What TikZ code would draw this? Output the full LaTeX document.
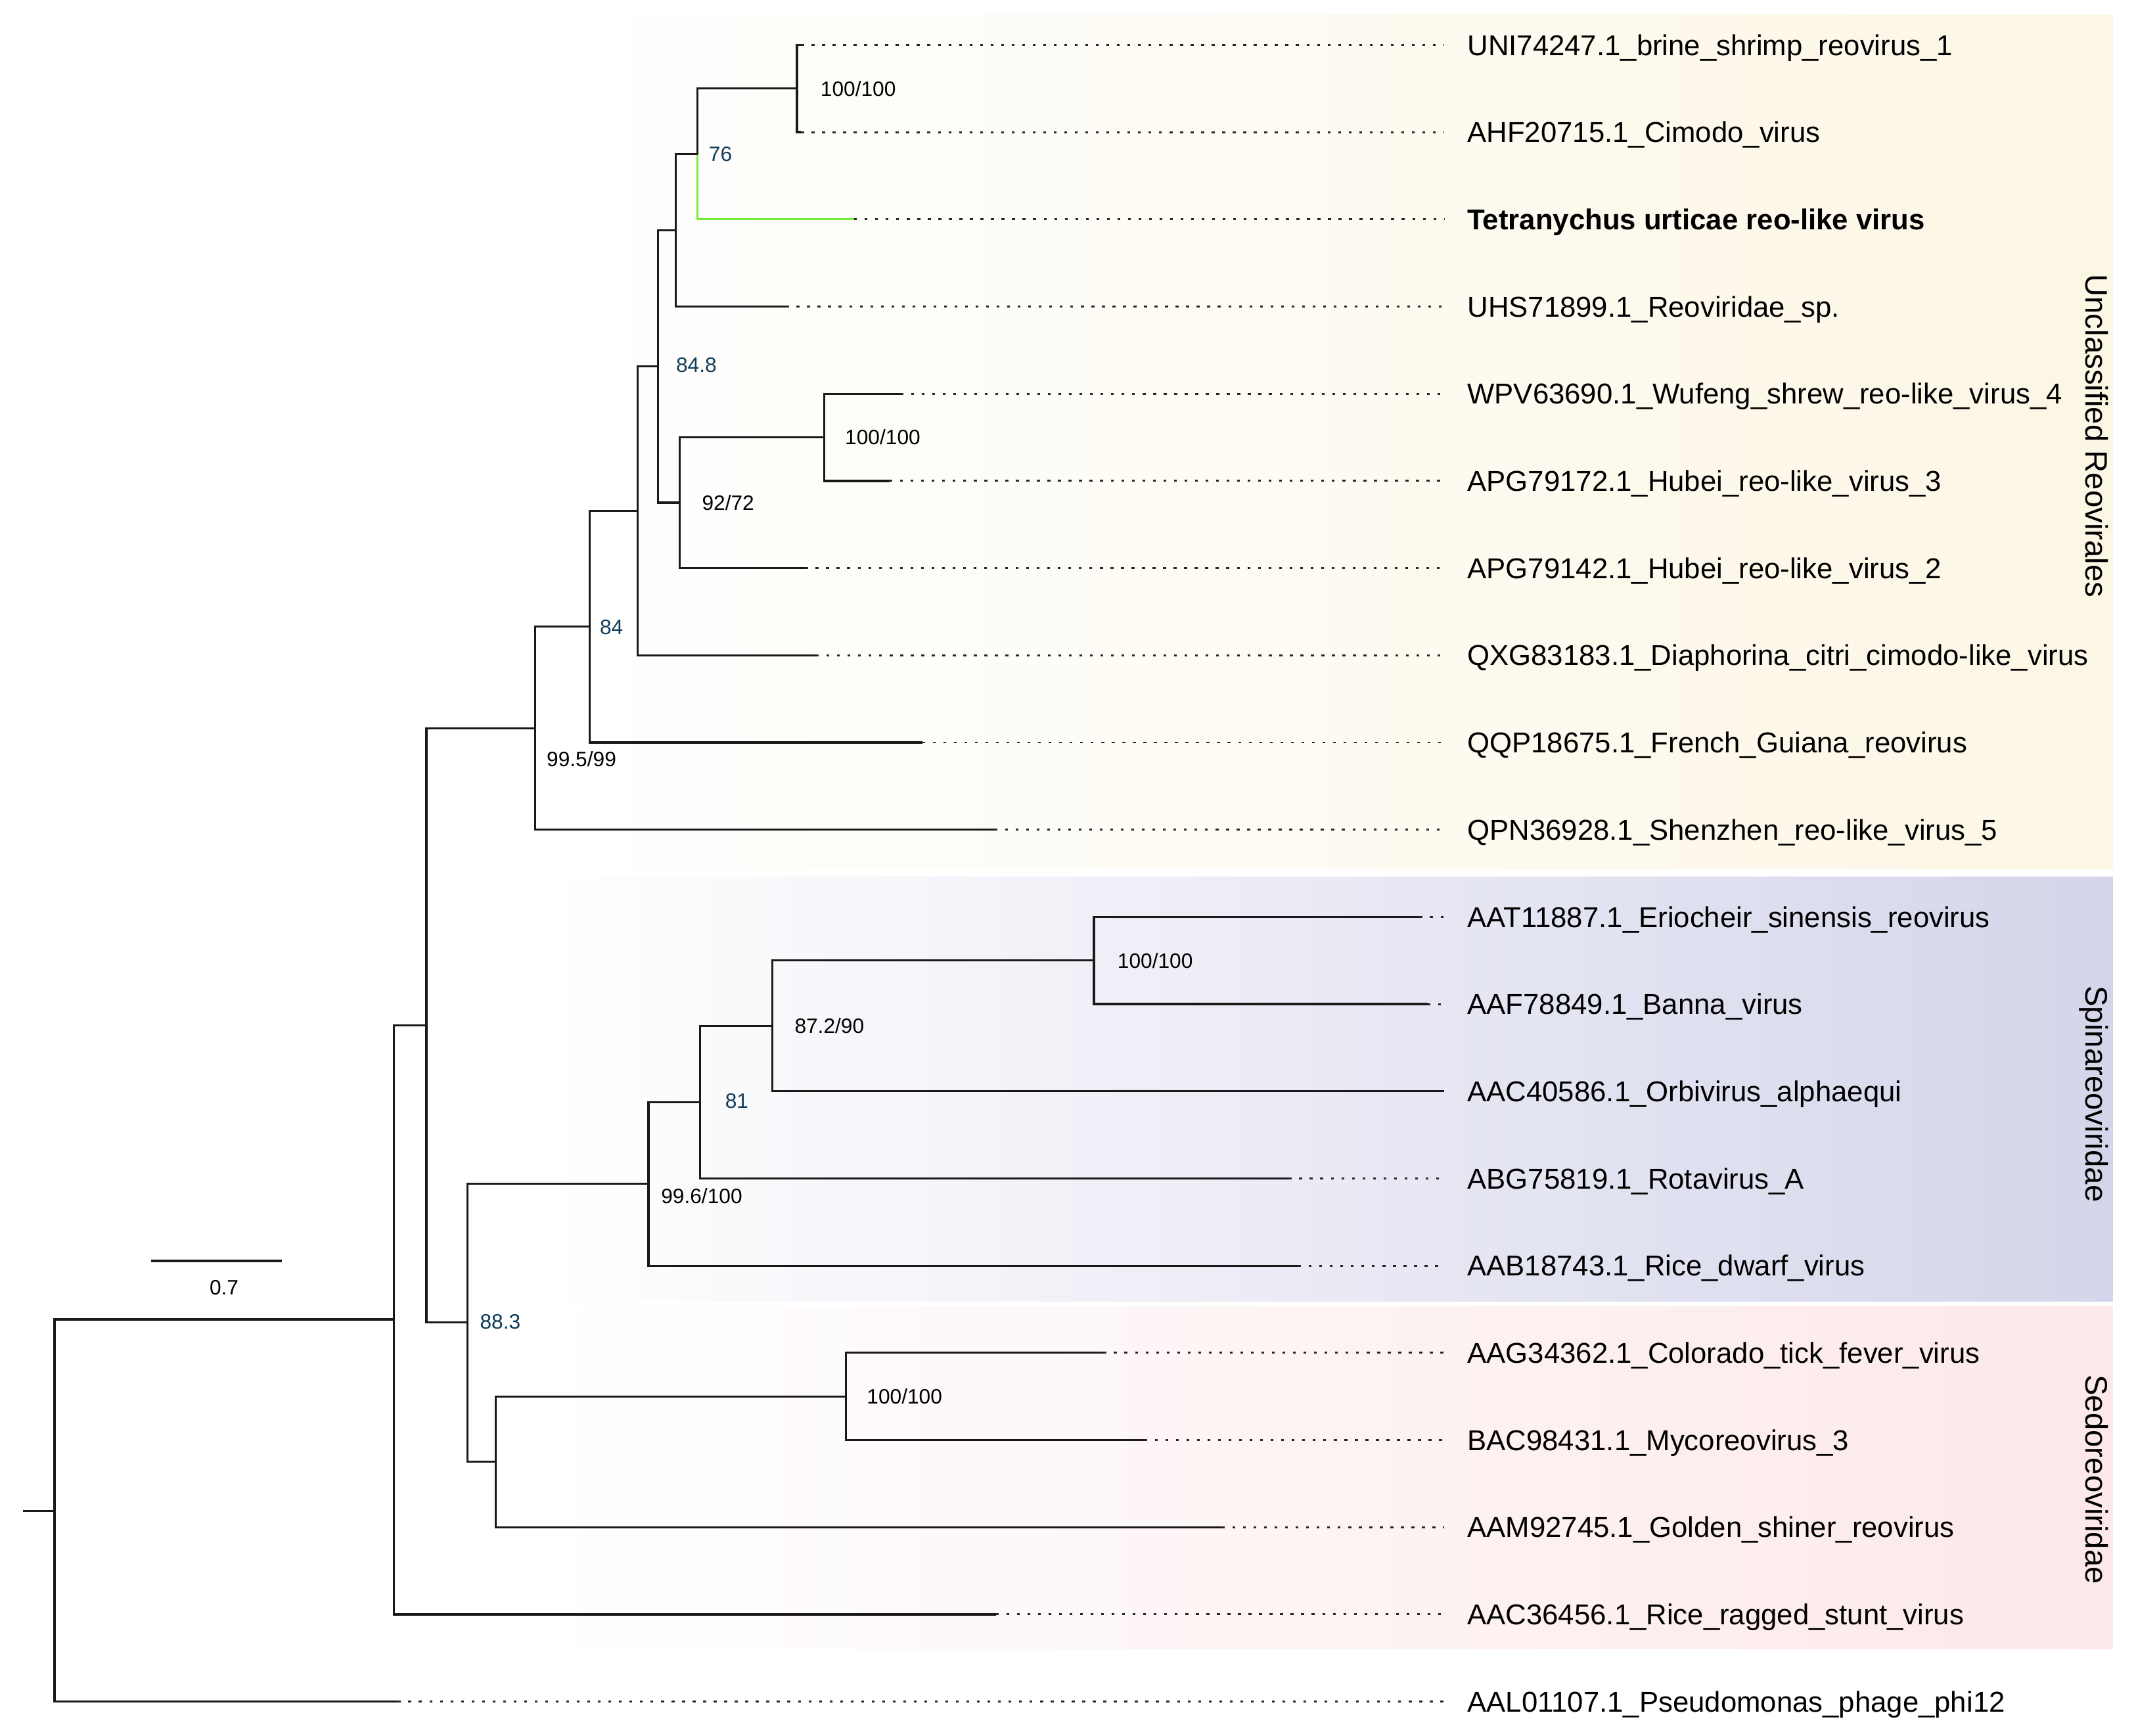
\documentclass[tikz,border=0pt]{standalone}
\usepackage{xcolor}
\usepackage{fontspec}
\setmainfont{Liberation Sans}
\usepackage{tikz}
\usetikzlibrary{positioning}

\definecolor{unclbg}{RGB}{252,246,228}
\definecolor{spinbg}{RGB}{212,213,234}
\definecolor{sedobg}{RGB}{252,232,232}
\definecolor{supblue}{RGB}{15,60,90}
\definecolor{tuvgreen}{RGB}{115,235,55}

\begin{document}
\begin{tikzpicture}[
    x=0.02cm, y=-0.02cm,
    branch/.style={line width=0.9pt, black!90},
    tail/.style={line width=0.8pt, dash pattern=on 1.2pt off 3.2pt, black!85},
    leaf/.style={anchor=west, inner xsep=9.6pt, inner ysep=0pt, text height=8.6pt,
                 text depth=0pt, font=\fontsize{12}{14}\selectfont},
    support/.style={anchor=west, inner sep=0pt, text height=6.2pt, text depth=0pt,
                    font=\fontsize{8.7}{10}\selectfont},
    keysupport/.style={support, text=supblue},
    clade/.style={rotate=-90, inner sep=0pt, text height=9.4pt, text depth=2.7pt,
                  font=\fontsize{13}{15}\selectfont}
  ]
    \useasboundingbox (0,0) rectangle (1568,1274);
    \fill[white] (0,0) rectangle (1568,1274);
    \shade[left color=white, right color=unclbg] (400,11) rectangle (1551,638);
    \shade[left color=white, right color=spinbg] (400,643.5) rectangle (1551,955);
    \shade[left color=white, right color=sedobg] (400,959) rectangle (1551,1210.5);

    \node[leaf] (uni)   at (1060,33)   {UNI74247.1\_brine\_shrimp\_reovirus\_1};
    \node[leaf] (ahf)   at (1060,97)   {AHF20715.1\_Cimodo\_virus};
    \node[leaf] (tuv)   at (1060,161)  {\bfseries Tetranychus urticae reo-like virus};
    \node[leaf] (uhs)   at (1060,225)  {UHS71899.1\_Reoviridae\_sp.};
    \node[leaf] (wpv)   at (1060,289)  {WPV63690.1\_Wufeng\_shrew\_reo-like\_virus\_4};
    \node[leaf] (apg72) at (1060,353)  {APG79172.1\_Hubei\_reo-like\_virus\_3};
    \node[leaf] (apg42) at (1060,417)  {APG79142.1\_Hubei\_reo-like\_virus\_2};
    \node[leaf] (qxg)   at (1060,481)  {QXG83183.1\_Diaphorina\_citri\_cimodo-like\_virus};
    \node[leaf] (qqp)   at (1060,545)  {QQP18675.1\_French\_Guiana\_reovirus};
    \node[leaf] (qpn)   at (1060,609)  {QPN36928.1\_Shenzhen\_reo-like\_virus\_5};
    \node[leaf] (aat)   at (1060,673)  {AAT11887.1\_Eriocheir\_sinensis\_reovirus};
    \node[leaf] (aaf)   at (1060,737)  {AAF78849.1\_Banna\_virus};
    \node[leaf] (aac86) at (1060,801)  {AAC40586.1\_Orbivirus\_alphaequi};
    \node[leaf] (abg)   at (1060,865)  {ABG75819.1\_Rotavirus\_A};
    \node[leaf] (aab)   at (1060,929)  {AAB18743.1\_Rice\_dwarf\_virus};
    \node[leaf] (aag)   at (1060,993)  {AAG34362.1\_Colorado\_tick\_fever\_virus};
    \node[leaf] (bac)   at (1060,1057) {BAC98431.1\_Mycoreovirus\_3};
    \node[leaf] (aam)   at (1060,1121) {AAM92745.1\_Golden\_shiner\_reovirus};
    \node[leaf] (aac56) at (1060,1185) {AAC36456.1\_Rice\_ragged\_stunt\_virus};
    \node[leaf] (aal)   at (1060,1249) {AAL01107.1\_Pseudomonas\_phage\_phi12};

    \node[clade] (uncl) at (1537,320)  {Unclassified Reovirales};
    \node[clade] (spin) at (1537,803)  {Spinareoviridae};
    \node[clade] (sedo) at (1537,1086) {Sedoreoviridae};

    \coordinate (t-uni)   at (588,33);
    \coordinate (t-ahf)   at (588,97);
    \coordinate (t-tuv)   at (627,161);
    \coordinate (t-uhs)   at (577,225);
    \coordinate (t-wpv)   at (661,289);
    \coordinate (t-apg72) at (653,353);
    \coordinate (t-apg42) at (591,417);
    \coordinate (t-qxg)   at (599,481);
    \coordinate (t-qqp)   at (677,545);
    \coordinate (t-qpn)   at (730,609);
    \coordinate (t-aat)   at (1042,673);
    \coordinate (t-aaf)   at (1048,737);
    \coordinate (t-abg)   at (946,865);
    \coordinate (t-aab)   at (953,929);
    \coordinate (t-aag)   at (810,993);
    \coordinate (t-bac)   at (840,1057);
    \coordinate (t-aam)   at (897,1121);
    \coordinate (t-aac56) at (731,1185);
    \coordinate (t-aal)   at (292,1249);

    \coordinate (nA) at (585,65);
    \coordinate (nB) at (512,113);
    \coordinate (nC) at (496,169);
    \coordinate (nD) at (483,269);
    \coordinate (nE) at (499,369);
    \coordinate (nF) at (605,321);
    \coordinate (nG) at (468,375);
    \coordinate (nH) at (433,460);
    \coordinate (nI) at (393,534.5);
    \coordinate (nJ) at (313,752.5);
    \coordinate (nK) at (343,970.5);
    \coordinate (nS) at (476,869);
    \coordinate (nR) at (514,809);
    \coordinate (nQ) at (567,753);
    \coordinate (nP) at (803,705);
    \coordinate (nN) at (364,1073);
    \coordinate (nO) at (621,1025);
    \coordinate (nL) at (289,968.5);
    \coordinate (root) at (40,1109);
    \coordinate (stub) at (17,1109);

    \draw[branch] (nA) |- (t-uni)  (nA) |- (t-ahf);
    \draw[branch] (nB) |- (nA);
    \draw[branch, draw=tuvgreen] (nB) |- (t-tuv);
    \draw[branch] (nC) |- (nB)     (nC) |- (t-uhs);
    \draw[branch] (nD) |- (nC)     (nD) |- (nE);
    \draw[branch] (nE) |- (nF)     (nE) |- (t-apg42);
    \draw[branch] (nF) |- (t-wpv)  (nF) |- (t-apg72);
    \draw[branch] (nG) |- (nD)     (nG) |- (t-qxg);
    \draw[branch] (nH) |- (nG)     (nH) |- (t-qqp);
    \draw[branch] (nI) |- (nH)     (nI) |- (t-qpn);
    \draw[branch] (nJ) |- (nI)     (nJ) |- (nK);
    \draw[branch] (nK) |- (nS)     (nK) |- (nN);
    \draw[branch] (nS) |- (nR)     (nS) |- (t-aab);
    \draw[branch] (nR) |- (nQ)     (nR) |- (t-abg);
    \draw[branch] (nQ) |- (nP)     (nQ) |- (aac86.west);
    \draw[branch] (nP) |- (t-aat)  (nP) |- (t-aaf);
    \draw[branch] (nN) |- (nO)     (nN) |- (t-aam);
    \draw[branch] (nO) |- (t-aag)  (nO) |- (t-bac);
    \draw[branch] (nL) |- (nJ)     (nL) |- (t-aac56);
    \draw[branch] (root) |- (nL)   (root) |- (t-aal);
    \draw[branch] (stub) -- (root);

    \draw[tail] (t-uni) -- (uni.west)  (t-ahf) -- (ahf.west)  (t-tuv) -- (tuv.west)
                (t-uhs) -- (uhs.west)  (t-wpv) -- (wpv.west)  (t-apg72) -- (apg72.west)
                (t-apg42) -- (apg42.west)  (t-qxg) -- (qxg.west)  (t-qqp) -- (qqp.west)
                (t-qpn) -- (qpn.west)  (t-aat) -- (aat.west)  (t-aaf) -- (aaf.west)
                (t-abg) -- (abg.west)  (t-aab) -- (aab.west)  (t-aag) -- (aag.west)
                (t-bac) -- (bac.west)  (t-aam) -- (aam.west)  (t-aac56) -- (aac56.west)
                (t-aal) -- (aal.west);

    \node[support]    (sA) at (602,65)   {100/100};
    \node[keysupport] (sB) at (520,113)  {76};
    \node[keysupport] (sD) at (496,268)  {84.8};
    \node[support]    (sF) at (620,321)  {100/100};
    \node[support]    (sE) at (515,369)  {92/72};
    \node[keysupport] (sH) at (440,460)  {84};
    \node[support]    (sI) at (401,557)  {99.5/99};
    \node[support]    (sP) at (820,705)  {100/100};
    \node[support]    (sQ) at (583,753)  {87.2/90};
    \node[keysupport] (sR) at (532,808)  {81};
    \node[support]    (sS) at (485,878)  {99.6/100};
    \node[keysupport] (sK) at (352,970)  {88.3};
    \node[support]    (sO) at (636,1025) {100/100};

    \coordinate (bar-l) at (111,925.5);
    \coordinate (bar-r) at (207,925.5);
    \draw[branch] (bar-l) -- (bar-r);
    \node[support, anchor=center] (barlabel) at (164.5,945) {0.7};
  \end{tikzpicture}
\end{document}
